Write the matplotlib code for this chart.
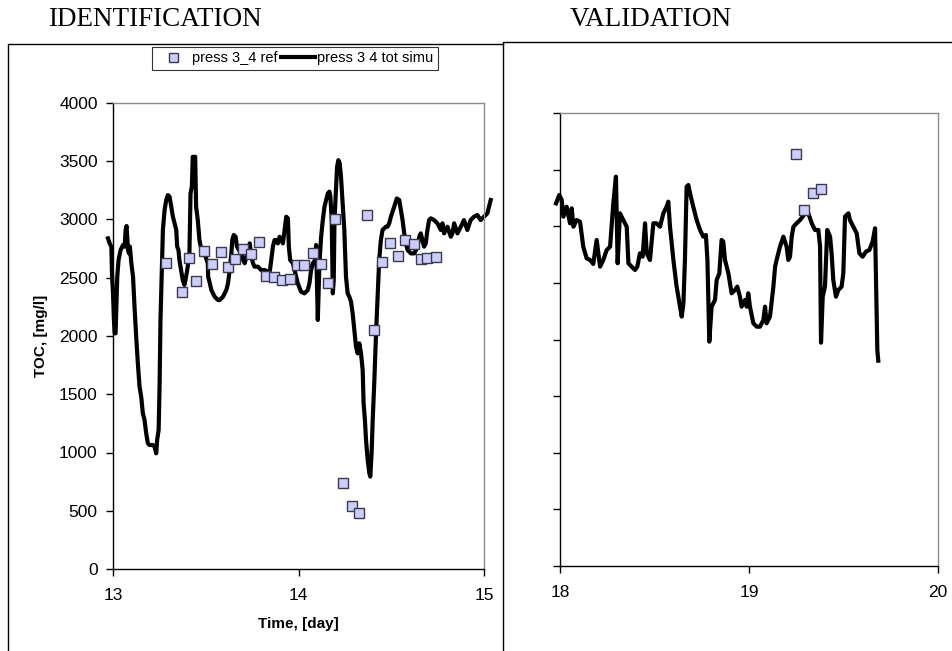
import matplotlib
matplotlib.use("Agg")
import matplotlib.pyplot as plt
from matplotlib.lines import Line2D

plt.rcParams['font.family'] = ['Liberation Sans', 'DejaVu Sans']

# ---------------- data: identification (left) ----------------
ident_ref_t = [13.285, 13.371, 13.412, 13.448, 13.489, 13.536, 13.581, 13.622, 13.658,
               13.701, 13.744, 13.787, 13.826, 13.869, 13.909, 13.952, 13.993, 14.032,
               14.077, 14.122, 14.161, 14.199, 14.242, 14.287, 14.328, 14.367, 14.405,
               14.450, 14.493, 14.536, 14.575, 14.620, 14.660, 14.695, 14.740]
ident_ref_v = [2624, 2380, 2672, 2469, 2732, 2618, 2721, 2589, 2658,
               2747, 2704, 2804, 2515, 2509, 2481, 2489, 2609, 2609,
               2715, 2618, 2452, 3001, 735, 541, 483, 3039, 2051,
               2638, 2801, 2687, 2824, 2790, 2658, 2672, 2681]

ident_sim_t = [12.973, 12.982, 12.991, 12.995, 13.000, 13.005, 13.009, 13.014, 13.018, 13.023,
               13.030, 13.041, 13.054, 13.063, 13.068, 13.073, 13.081, 13.086, 13.091, 13.099,
               13.108, 13.116, 13.125, 13.134, 13.143, 13.152, 13.161, 13.170, 13.179, 13.188,
               13.197, 13.215, 13.224, 13.233, 13.238, 13.246, 13.251, 13.256, 13.263, 13.269,
               13.278, 13.287, 13.296, 13.305, 13.314, 13.323, 13.332, 13.341, 13.346, 13.353,
               13.358, 13.367, 13.376, 13.385, 13.394, 13.403, 13.412, 13.418, 13.425, 13.430,
               13.435, 13.443, 13.448, 13.457, 13.466, 13.475, 13.493, 13.511,
               13.513, 13.522, 13.530, 13.539, 13.548, 13.557, 13.566, 13.575, 13.584, 13.593,
               13.602, 13.611, 13.620, 13.629, 13.638, 13.643, 13.651, 13.661, 13.668, 13.679,
               13.692, 13.701, 13.710, 13.719, 13.728, 13.737, 13.746, 13.755, 13.763, 13.781,
               13.799, 13.818, 13.835, 13.844, 13.853, 13.862, 13.871, 13.880, 13.889, 13.898,
               13.907, 13.916, 13.925, 13.934, 13.943, 13.948, 13.955, 13.970,
               13.996, 14.014, 14.032, 14.050, 14.059, 14.068, 14.077, 14.090, 14.095, 14.100,
               14.104, 14.108, 14.113, 14.122, 14.131, 14.140, 14.149, 14.158, 14.167, 14.172,
               14.179, 14.185, 14.190, 14.194, 14.203, 14.208, 14.215, 14.222, 14.229, 14.238,
               14.247, 14.256, 14.265, 14.274, 14.283, 14.292, 14.301, 14.310, 14.319, 14.328,
               14.337, 14.346, 14.351, 14.358, 14.364, 14.373, 14.382, 14.387, 14.394, 14.400,
               14.409, 14.418, 14.427, 14.435, 14.444, 14.453, 14.462, 14.471, 14.480, 14.489,
               14.498, 14.516, 14.530, 14.543, 14.552, 14.561, 14.570, 14.579, 14.588, 14.606,
               14.624, 14.642, 14.651, 14.659, 14.668, 14.677, 14.686, 14.695, 14.704, 14.713,
               14.731, 14.749, 14.767, 14.776, 14.785, 14.803, 14.821, 14.830, 14.839, 14.857,
               14.875, 14.892, 14.910, 14.928, 14.946, 14.964, 14.982, 15.000, 15.018, 15.036]
ident_sim_v = [2838, 2795, 2767, 2509, 2366, 2137, 2023, 2023, 2252, 2509,
               2652, 2738, 2781, 2767, 2910, 2944, 2738, 2709, 2767, 2624,
               2509, 2252, 1994, 1765, 1565, 1479, 1336, 1279, 1164, 1079,
               1064, 1064, 1050, 993, 1107, 1193, 1565, 2137, 2566, 2910,
               3081, 3167, 3210, 3196, 3110, 3024, 2967, 2910, 2767, 2738,
               2652, 2566, 2480, 2438, 2509, 2595, 2709, 3224, 3282, 3539,
               3510, 3539, 3110, 2995, 2824, 2752, 2709, 2624,
               2509, 2452, 2395, 2366, 2337, 2323, 2309, 2309, 2323, 2337,
               2366, 2395, 2452, 2566, 2709, 2824, 2867, 2852, 2767, 2738,
               2709, 2652, 2624, 2681, 2738, 2795, 2681, 2624, 2595, 2595,
               2566, 2566, 2552, 2538, 2652, 2767, 2824, 2824, 2795, 2852,
               2824, 2795, 2910, 3024, 3010, 2767, 2652, 2624,
               2452, 2380, 2366, 2395, 2452, 2566, 2624, 2652, 2781, 2423,
               2137, 2366, 2624, 2852, 2995, 3110, 3167, 3224, 3239, 3196,
               2995, 2366, 2480, 2995, 3282, 3453, 3510, 3482, 3367, 3139,
               2910, 2509, 2366, 2337, 2295, 2194, 2051, 1908, 1851, 1937,
               1851, 1708, 1422, 1279, 1107, 936, 821, 793, 993, 1279,
               1622, 2023, 2366, 2652, 2824, 2910, 2924, 2938, 2938, 2967,
               3024, 3110, 3181, 3167, 3081, 2995, 2881, 2795, 2738, 2709,
               2709, 2767, 2852, 2881, 2824, 2767, 2795, 2910, 2995, 3010,
               2995, 2967, 2910, 2967, 2881, 2938, 2852, 2881, 2967, 2881,
               2938, 2995, 2910, 2995, 3024, 3039, 2995, 3024, 3053, 3167]

# ---------------- data: validation (right) ----------------
valid_ref_t = [19.250, 19.293, 19.337, 19.379]
valid_ref_v = [3635, 3144, 3291, 3332]

valid_sim_t = [17.979, 17.996, 18.009, 18.018, 18.035, 18.053, 18.062, 18.071, 18.088, 18.106,
               18.123, 18.141, 18.159, 18.176, 18.194, 18.212, 18.229, 18.247, 18.265, 18.282,
               18.296, 18.305, 18.317, 18.335, 18.353, 18.362, 18.379, 18.397, 18.409, 18.423,
               18.437, 18.450, 18.459, 18.476, 18.494, 18.511, 18.529, 18.547, 18.564, 18.573,
               18.582, 18.600, 18.617, 18.635, 18.644, 18.653, 18.661, 18.670, 18.679, 18.688,
               18.705, 18.723, 18.741, 18.758, 18.772, 18.780, 18.790, 18.802, 18.820, 18.829,
               18.843, 18.855, 18.864, 18.873, 18.891, 18.908, 18.926, 18.938, 18.952, 18.961,
               18.979, 18.988, 18.996, 19.005, 19.023, 19.041, 19.058, 19.076, 19.085, 19.093,
               19.111, 19.129, 19.138, 19.146, 19.164, 19.182, 19.199, 19.208, 19.217, 19.226,
               19.235, 19.252, 19.270, 19.284, 19.296, 19.314, 19.332, 19.349, 19.367, 19.376,
               19.381, 19.390, 19.402, 19.414, 19.429, 19.437, 19.446, 19.460, 19.473, 19.490,
               19.499, 19.508, 19.526, 19.534, 19.552, 19.570, 19.584, 19.601, 19.619, 19.637,
               19.654, 19.667, 19.672, 19.679, 19.684]
valid_sim_v = [3202, 3276, 3232, 3085, 3173, 3026, 3158, 2996, 3055, 3040,
               2820, 2717, 2702, 2667, 2879, 2643, 2702, 2790, 2820, 3202,
               3438, 2673, 3114, 3055, 2996, 2673, 2643, 2614, 2643, 2761,
               2731, 3026, 2761, 2702, 3026, 3026, 2996, 3114, 3173, 3217,
               2996, 2702, 2467, 2290, 2202, 2319, 2702, 3349, 3364, 3291,
               3173, 3055, 2967, 2908, 2923, 2702, 1981, 2290, 2349, 2525,
               2584, 2879, 2864, 2702, 2584, 2408, 2437, 2467, 2378, 2290,
               2349, 2290, 2408, 2290, 2143, 2113, 2113, 2172, 2290, 2143,
               2202, 2467, 2643, 2702, 2820, 2908, 2820, 2702, 2731, 2908,
               2996, 3026, 3055, 3085, 3114, 3114, 3026, 2967, 2967, 2820,
               1972, 2378, 2467, 2967, 2908, 2761, 2525, 2378, 2437, 2467,
               2584, 3085, 3114, 3055, 2996, 2937, 2761, 2731, 2776, 2790,
               2864, 2982, 2525, 1907, 1813]

y_ticks = [0, 500, 1000, 1500, 2000, 2500, 3000, 3500, 4000]
left_x_ticks = [13, 14, 15]
right_x_ticks = [18, 19, 20]

W, H = 952, 651
fig = plt.figure(figsize=(W / 100, H / 100), dpi=100)

def px_rect(x0, y0, x1, y1):
    return [x0 / W, 1 - y1 / H, (x1 - x0) / W, (y1 - y0) / H]

ax1 = fig.add_axes(px_rect(113, 103, 484, 569))
ax2 = fig.add_axes(px_rect(560, 113, 938, 566))

sq_face = '#CCCCFF'
sq_edge = '#3A3A4A'

for ax in (ax1, ax2):
    ax.set_ylim(0, 4000)
    ax.set_yticks(y_ticks)
    ax.spines['left'].set_color('black')
    ax.spines['bottom'].set_color('black')
    ax.spines['top'].set_color('#8C8C8C')
    ax.spines['right'].set_color('#8C8C8C')
    for s in ax.spines.values():
        s.set_linewidth(1.0)
    ax.tick_params(axis='both', direction='out', length=5, width=1.0, color='black',
                   labelsize=12.5, pad=6)
    ax.tick_params(axis='x', pad=9)

ax1.set_xlim(13, 15)
ax1.set_xticks(left_x_ticks)
ax1.set_xticklabels([str(v) for v in left_x_ticks])
ax1.set_yticklabels([str(v) for v in y_ticks])

ax2.set_xlim(18, 20)
ax2.set_xticks(right_x_ticks)
ax2.set_xticklabels([str(v) for v in right_x_ticks])
ax2.set_yticklabels([])

ln1, = ax1.plot(ident_sim_t, ident_sim_v, color='black', lw=3.0, solid_joinstyle='round',
                clip_on=False, zorder=2, label='press 3 4 tot simu')
sc1, = ax1.plot(ident_ref_t, ident_ref_v, ls='none', marker='s', ms=7.2, mfc=sq_face,
                mec=sq_edge, mew=1.0, zorder=3, label='press 3_4 ref')
ax2.plot(valid_sim_t, valid_sim_v, color='black', lw=3.0, solid_joinstyle='round',
         clip_on=False, zorder=2)
ax2.plot(valid_ref_t, valid_ref_v, ls='none', marker='s', ms=7.2, mfc=sq_face,
         mec=sq_edge, mew=1.0, zorder=3)

ax1.set_ylabel('TOC, [mg/l]', fontsize=11, fontweight='bold', labelpad=8)
ax1.set_xlabel('Time, [day]', fontsize=11, fontweight='bold', labelpad=10)

# legend
leg = fig.legend([sc1, ln1], ['press 3_4 ref', 'press 3 4 tot simu'], ncol=2,
                 loc='upper left', bbox_to_anchor=(152 / W, 1 - 47 / H),
                 fontsize=10.5, frameon=True, fancybox=False, borderpad=0.3,
                 handlelength=2.3, handletextpad=0.15, columnspacing=0.25,
                 borderaxespad=0, markerscale=0.9)
leg.get_frame().set_edgecolor('black')
leg.get_frame().set_linewidth(0.8)

# outer panel boxes
def fig_line(xs, ys, **kw):
    fig.add_artist(Line2D([x / W for x in xs], [1 - y / H for y in ys],
                          transform=fig.transFigure, color='black', lw=1.0, **kw))

fig_line([8, 8, 503], [651, 43.5, 43.5])
fig_line([503, 503, 952], [651, 41.5, 41.5])

# titles
fig.text(155 / W, 1 - 20 / H, 'IDENTIFICATION', ha='center', va='center',
         fontsize=19.5, family=['Liberation Serif', 'DejaVu Serif'])
fig.text(651 / W, 1 - 20 / H, 'VALIDATION', ha='center', va='center',
         fontsize=19.5, family=['Liberation Serif', 'DejaVu Serif'])

fig.savefig('out.png', dpi=100)
